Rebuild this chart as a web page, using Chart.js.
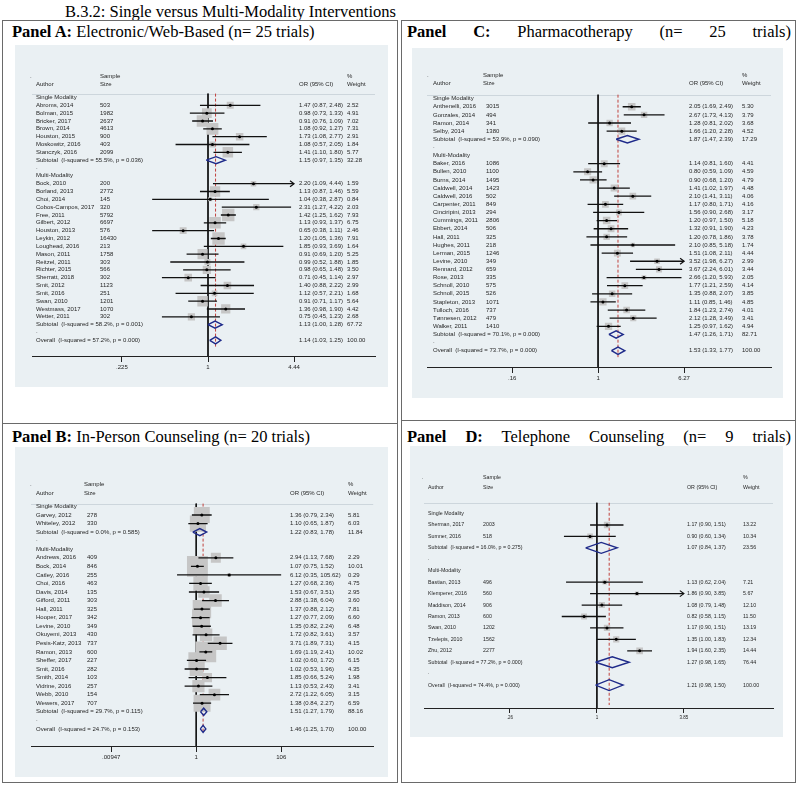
<!DOCTYPE html>
<html>
<head>
<meta charset="utf-8">
<script src="https://cdn.jsdelivr.net/npm/chart.js@4.4.1/dist/chart.umd.min.js"></script>
<style>
    body { margin: 0; width: 800px; height: 785px; background: #fff; position: relative; overflow: hidden; }
    .caja { position: absolute; border: 1.5px solid #6a6a6a; box-sizing: border-box; }
    .titulo { position: absolute; font-family: "Liberation Serif", "Times New Roman", serif; font-size: 16.5px; line-height: 17px; color: #000; white-space: nowrap; }
    .just { white-space: normal; text-align: justify; text-align-last: justify; }
    canvas { position: absolute; background: #eaf0f3; }
</style>
</head>
<body>
<div class="titulo" style="left:65px; top:3px;">B.3.2: Single versus Multi-Modality Interventions</div>

<div class="caja" style="left:2px; top:20px; width:396px; height:404px;"></div>
<div class="caja" style="left:2px; top:423px; width:396px; height:360px;"></div>
<div class="caja" style="left:401px; top:20px; width:395px; height:401px;"></div>
<div class="caja" style="left:401px; top:420px; width:395px; height:363px;"></div>

<div class="titulo" style="left:12px; top:23px;"><b>Panel A:</b> Electronic/Web-Based (n= 25 trials)</div>
<div class="titulo" style="left:12px; top:428px;"><b>Panel B:</b> In-Person Counseling (n= 20 trials)</div>
<div class="titulo just" style="left:407px; top:23px; width:384px;"><b>Panel C:</b> Pharmacotherapy (n= 25 trials)</div>
<div class="titulo just" style="left:407px; top:428px; width:384px;"><b>Panel D:</b> Telephone Counseling (n= 9 trials)</div>

<canvas id="chartA" width="373" height="342" style="left:15px; top:45px;"></canvas>
<canvas id="chartC" width="371" height="350" style="left:412px; top:48px;"></canvas>
<canvas id="chartB" width="373" height="330" style="left:15px; top:447px;"></canvas>
<canvas id="chartD" width="373" height="291" style="left:410px; top:446px;"></canvas>

<script>
// Panel A: Electronic/Web-Based (single modality first, then multi-modality)
const autoresA = ['Abroms, 2014', 'Bolman, 2015', 'Bricker, 2017', 'Brown, 2014', 'Houston, 2015', 'Moskowitz, 2016', 'Stanczyk, 2016',
    'Bock, 2010', 'Borland, 2013', 'Choi, 2014', 'Cobos-Campos, 2017', 'Free, 2011', 'Gilbert, 2012', 'Houston, 2013', 'Leykin, 2012',
    'Loughead, 2016', 'Mason, 2011', 'Reitzel, 2011', 'Richter, 2015', 'Sherratt, 2018', 'Smit, 2012', 'Smit, 2016', 'Swan, 2010',
    'Westmass, 2017', 'Wetter, 2011'];
const muestraA = [503, 1982, 2637, 4613, 900, 403, 2099, 200, 2772, 145, 320, 5792, 6697, 576, 16430, 213, 1758, 303, 566, 302, 1123, 251, 1201, 1070, 302];
const orA = [1.47, 0.98, 0.91, 1.08, 1.73, 1.08, 1.41, 2.20, 1.13, 1.04, 2.31, 1.42, 1.13, 0.65, 1.20, 1.85, 0.91, 0.99, 0.98, 0.71, 1.40, 1.12, 0.91, 1.36, 0.75];
const bajoA = [0.87, 0.73, 0.76, 0.92, 1.08, 0.57, 1.10, 1.09, 0.87, 0.38, 1.27, 1.25, 0.93, 0.38, 1.05, 0.93, 0.69, 0.52, 0.65, 0.45, 0.88, 0.57, 0.71, 0.98, 0.45];
const altoA = [2.48, 1.33, 1.09, 1.27, 2.77, 2.05, 1.80, 4.44, 1.46, 2.87, 4.22, 1.62, 1.37, 1.11, 1.36, 3.69, 1.20, 1.88, 1.48, 1.14, 2.22, 2.21, 1.17, 1.90, 1.23];
const pesoA = [2.52, 4.91, 7.02, 7.31, 2.91, 1.84, 5.77, 1.59, 5.59, 0.84, 2.03, 7.93, 6.75, 2.46, 7.91, 1.64, 5.25, 1.85, 3.50, 2.97, 2.99, 1.68, 5.64, 4.42, 2.68];
const nSimpleA = 7;
const resumenTxtA = ['Subtotal  (I-squared = 55.5%, p = 0.036)', 'Subtotal  (I-squared = 58.2%, p = 0.001)', 'Overall  (I-squared = 57.2%, p = 0.000)'];
const resumenOrA = [1.15, 1.13, 1.14];
const resumenBajoA = [0.97, 1.00, 1.03];
const resumenAltoA = [1.35, 1.28, 1.25];
const resumenPesoA = [32.28, 67.72, 100.00];
const ticksA = [0.225, 1, 4.44];
const ticksTxtA = ['.225', '1', '4.44'];

// Panel B: In-Person Counseling
const autoresB = ['Garvey, 2012', 'Whiteley, 2012',
    'Andrews, 2016', 'Bock, 2014', 'Catley, 2016', 'Choi, 2016', 'Davis, 2014', 'Gifford, 2011', 'Hall, 2011', 'Hooper, 2017', 'Levine, 2010',
    'Okuyemi, 2013', 'Pesis-Katz, 2013', 'Ramon, 2013', 'Sheffer, 2017', 'Smit, 2016', 'Smith, 2014', 'Vidrine, 2016', 'Webb, 2010', 'Wewers, 2017'];
const muestraB = [278, 330, 409, 846, 255, 463, 135, 303, 325, 342, 349, 430, 737, 600, 227, 282, 103, 257, 154, 707];
const orB = [1.36, 1.10, 2.94, 1.07, 6.12, 1.27, 1.53, 2.88, 1.37, 1.27, 1.35, 1.72, 3.71, 1.69, 1.02, 1.02, 1.85, 1.13, 2.72, 1.38];
const bajoB = [0.79, 0.65, 1.13, 0.75, 0.35, 0.68, 0.67, 1.38, 0.88, 0.77, 0.82, 0.82, 1.89, 1.19, 0.60, 0.53, 0.66, 0.53, 1.22, 0.84];
const altoB = [2.34, 1.87, 7.68, 1.52, 105.62, 2.36, 3.51, 6.04, 2.12, 2.09, 2.24, 3.61, 7.31, 2.41, 1.72, 1.96, 5.24, 2.43, 6.05, 2.27];
const pesoB = [5.81, 6.03, 2.29, 10.01, 0.29, 4.75, 2.95, 3.60, 7.81, 6.60, 6.48, 3.57, 4.15, 10.02, 6.15, 4.35, 1.98, 3.41, 3.15, 6.59];
const nSimpleB = 2;
const resumenTxtB = ['Subtotal  (I-squared = 0.0%, p = 0.585)', 'Subtotal  (I-squared = 29.7%, p = 0.115)', 'Overall  (I-squared = 24.7%, p = 0.153)'];
const resumenOrB = [1.22, 1.51, 1.46];
const resumenBajoB = [0.83, 1.27, 1.25];
const resumenAltoB = [1.78, 1.79, 1.70];
const resumenPesoB = [11.84, 88.16, 100.00];
const ticksB = [0.00947, 1, 106];
const ticksTxtB = ['.00947', '1', '106'];

// Panel C: Pharmacotherapy
const autoresC = ['Anthenelli, 2016', 'Gonzales, 2014', 'Ramon, 2014', 'Selby, 2014',
    'Baker, 2016', 'Bullen, 2010', 'Burns, 2014', 'Caldwell, 2014', 'Caldwell, 2016', 'Carpenter, 2011', 'Cinciripini, 2013', 'Cummings, 2011',
    'Ebbert, 2014', 'Hall, 2011', 'Hughes, 2011', 'Lerman, 2015', 'Levine, 2010', 'Rennard, 2012', 'Rose, 2013', 'Schnoll, 2010',
    'Schnoll, 2015', 'Stapleton, 2013', 'Tulloch, 2016', 'Tønnesen, 2012', 'Walker, 2011'];
const muestraC = [3015, 494, 341, 1380, 1086, 1100, 1495, 1423, 502, 849, 294, 2806, 506, 325, 218, 1246, 349, 659, 335, 575, 526, 1071, 737, 479, 1410];
const orC = [2.05, 2.67, 1.28, 1.66, 1.14, 0.80, 0.90, 1.41, 2.10, 1.17, 1.56, 1.20, 1.32, 1.20, 2.10, 1.51, 3.52, 3.67, 2.66, 1.77, 1.35, 1.11, 1.84, 2.12, 1.25];
const bajoC = [1.69, 1.73, 0.81, 1.20, 0.81, 0.59, 0.68, 1.02, 1.41, 0.80, 0.90, 0.97, 0.91, 0.78, 0.85, 1.08, 1.98, 2.24, 1.20, 1.21, 0.88, 0.85, 1.23, 1.28, 0.97];
const altoC = [2.49, 4.13, 2.02, 2.28, 1.60, 1.09, 1.20, 1.97, 3.11, 1.71, 2.68, 1.50, 1.90, 1.86, 5.18, 2.11, 6.27, 6.01, 5.93, 2.59, 2.07, 1.46, 2.74, 3.49, 1.62];
const pesoC = [5.30, 3.79, 3.68, 4.52, 4.41, 4.59, 4.79, 4.48, 4.06, 4.16, 3.17, 5.18, 4.23, 3.78, 1.74, 4.44, 2.99, 3.44, 2.05, 4.14, 3.85, 4.85, 4.01, 3.41, 4.94];
const nSimpleC = 4;
const resumenTxtC = ['Subtotal  (I-squared = 53.9%, p = 0.090)', 'Subtotal  (I-squared = 70.1%, p = 0.000)', 'Overall  (I-squared = 73.7%, p = 0.000)'];
const resumenOrC = [1.87, 1.47, 1.53];
const resumenBajoC = [1.47, 1.26, 1.33];
const resumenAltoC = [2.39, 1.71, 1.77];
const resumenPesoC = [17.29, 82.71, 100.00];
const ticksC = [0.16, 1, 6.27];
const ticksTxtC = ['.16', '1', '6.27'];

// Panel D: Telephone Counseling
const autoresD = ['Sherman, 2017', 'Sumner, 2016',
    'Bastian, 2013', 'Klemperer, 2016', 'Maddison, 2014', 'Ramon, 2013', 'Swan, 2010', 'Tzelepis, 2010', 'Zhu, 2012'];
const muestraD = [2003, 518, 496, 560, 906, 600, 1202, 1562, 2277];
const orD = [1.17, 0.90, 1.13, 1.86, 1.08, 0.82, 1.17, 1.35, 1.94];
const bajoD = [0.90, 0.60, 0.62, 0.90, 0.79, 0.58, 0.90, 1.00, 1.60];
const altoD = [1.51, 1.34, 2.04, 3.85, 1.48, 1.15, 1.51, 1.83, 2.35];
const pesoD = [13.22, 10.34, 7.21, 5.67, 12.10, 11.50, 13.19, 12.34, 14.44];
const nSimpleD = 2;
const resumenTxtD = ['Subtotal  (I-squared = 16.0%, p = 0.275)', 'Subtotal  (I-squared = 77.2%, p = 0.000)', 'Overall  (I-squared = 74.4%, p = 0.000)'];
const resumenOrD = [1.07, 1.27, 1.21];
const resumenBajoD = [0.84, 0.98, 0.98];
const resumenAltoD = [1.37, 1.65, 1.50];
const resumenPesoD = [23.56, 76.44, 100.00];
const ticksD = [0.26, 1, 3.85];
const ticksTxtD = ['.26', '1', '3.85'];

const FUENTE = '"Liberation Sans", Arial, sans-serif';

// armar la lista de filas: encabezado, estudios, subtotal, punto, ... overall
function armarFilas(nEstudios, nSimple) {
    const filas = [{ tipo: 'grupo', texto: 'Single Modality' }];
    for (let i = 0; i < nSimple; i++) filas.push({ tipo: 'estudio', i });
    filas.push({ tipo: 'resumen', j: 0 });
    filas.push({ tipo: 'punto' });
    filas.push({ tipo: 'grupo', texto: 'Multi-Modality' });
    for (let i = nSimple; i < nEstudios; i++) filas.push({ tipo: 'estudio', i });
    filas.push({ tipo: 'resumen', j: 1 });
    filas.push({ tipo: 'punto' });
    filas.push({ tipo: 'resumen', j: 2 });
    return filas.map((f, k) => ({ ...f, fila: k }));
}

const f2 = v => v.toFixed(2);

function dibujarForest(canvasId, d, L) {
    const paso = (L.ejeY - L.fila0Y) / L.filaEje;
    const aFila = py => (py - L.fila0Y) / paso;
    const filas = armarFilas(d.autores.length, d.nSimple);
    const estudios = filas.filter(f => f.tipo === 'estudio');
    const resumenes = filas.filter(f => f.tipo === 'resumen');
    const filaOverall = resumenes[2].fila;
    const overall = d.resOr[2];
    const tickMax = d.ticks[d.ticks.length - 1];
    const cx = v => v - L.grisX;

    const linea = (data, color, ancho, orden, extra) => Object.assign({
        data, showLine: true, borderColor: color, borderWidth: ancho,
        pointRadius: 0, fill: false, tension: 0, order: orden
    }, extra || {});

    const datasets = [
        // puntos de estimación
        {
            data: estudios.map(f => ({ x: d.or[f.i], y: f.fila })),
            pointRadius: 1.5, pointBackgroundColor: '#000', pointBorderWidth: 0, order: 0
        },
        // intervalos de confianza
        ...estudios.map(f => linea([{ x: d.bajo[f.i], y: f.fila }, { x: d.alto[f.i], y: f.fila }], '#111', 1.3, 1)),
        // diamantes
        ...resumenes.map(f => linea([
            { x: d.resBajo[f.j], y: f.fila },
            { x: d.resOr[f.j], y: f.fila - L.diamante },
            { x: d.resAlto[f.j], y: f.fila },
            { x: d.resOr[f.j], y: f.fila + L.diamante },
            { x: d.resBajo[f.j], y: f.fila }
        ], '#1f2b8a', 1.4, 1)),
        // cuadros de peso
        {
            data: estudios.map(f => ({ x: d.or[f.i], y: f.fila })),
            pointStyle: 'rect',
            pointRadius: c => L.kCaja * Math.sqrt(d.peso[estudios[c.dataIndex].i]) / Math.SQRT2,
            pointBackgroundColor: '#c6c6c6', pointBorderWidth: 0, order: 3
        },
        // línea de no efecto y línea del overall
        linea([{ x: 1, y: aFila(L.sepY) }, { x: 1, y: L.filaEje }], '#111', 1, 4),
        linea([{ x: overall, y: aFila(L.sepY) }, { x: overall, y: aFila(L.finRojaY) }], '#c0403c', 1, 4, { borderDash: [3, 2] })
    ];

    const textos = {
        id: 'textos' + canvasId,
        beforeDatasetsDraw(chart) {
            const { ctx, chartArea, scales: { y } } = chart;
            const ys = Math.round(y.getPixelForValue(aFila(L.sepY))) + 0.5;
            ctx.save();
            ctx.strokeStyle = '#cdd6dc';
            ctx.lineWidth = 1;
            ctx.beginPath();
            ctx.moveTo(chartArea.left, ys);
            ctx.lineTo(chartArea.right, ys);
            ctx.stroke();
            ctx.restore();
        },
        afterDatasetsDraw(chart) {
            const { ctx, scales: { x, y } } = chart;
            ctx.save();
            ctx.fillStyle = '#262626';
            ctx.font = `${L.fs}px ${FUENTE}`;
            ctx.textBaseline = 'middle';
            ctx.textAlign = 'left';

            // cabecera
            const yS = y.getPixelForValue(aFila(L.sampleY));
            const yA = y.getPixelForValue(aFila(L.autorY));
            ctx.fillText('.', cx(L.colAutor - 6), yS);
            ctx.fillText('Sample', cx(L.colMuestraH), yS);
            ctx.fillText('Size', cx(L.colMuestraH), yA);
            ctx.fillText('Author', cx(L.colAutor), yA);
            ctx.fillText('OR (95% CI)', cx(L.colOr), yA);
            ctx.fillText('%', cx(L.colPeso), yS);
            ctx.fillText('Weight', cx(L.colPeso), yA);

            filas.forEach(f => {
                const py = y.getPixelForValue(f.fila);
                if (f.tipo === 'grupo') {
                    ctx.fillText(f.texto, cx(L.colAutor), py);
                } else if (f.tipo === 'punto') {
                    ctx.fillText('.', cx(L.colAutor), py - 1);
                } else if (f.tipo === 'estudio') {
                    const i = f.i;
                    ctx.fillText(d.autores[i], cx(L.colAutor), py);
                    ctx.fillText(String(d.muestra[i]), cx(L.colMuestra), py);
                    ctx.fillText(`${f2(d.or[i])} (${f2(d.bajo[i])}, ${f2(d.alto[i])})`, cx(L.colOr), py);
                    ctx.fillText(f2(d.peso[i]), cx(L.colPeso), py);
                } else {
                    const j = f.j;
                    ctx.fillText(d.resTxt[j], cx(L.colAutor), py);
                    ctx.fillText(`${f2(d.resOr[j])} (${f2(d.resBajo[j])}, ${f2(d.resAlto[j])})`, cx(L.colOr), py);
                    ctx.fillText(f2(d.resPeso[j]), cx(L.colPeso), py);
                }
            });

            // flechas cuando el IC llega al límite del eje
            ctx.strokeStyle = '#111';
            ctx.lineWidth = 1.2;
            estudios.forEach(f => {
                if (d.alto[f.i] < tickMax) return;
                const px = x.getPixelForValue(d.alto[f.i]);
                const py = y.getPixelForValue(f.fila);
                ctx.beginPath();
                ctx.moveTo(px - 4, py - 3);
                ctx.lineTo(px, py);
                ctx.lineTo(px - 4, py + 3);
                ctx.stroke();
            });
            ctx.restore();
        }
    };

    new Chart(document.getElementById(canvasId), {
        type: 'scatter',
        data: { datasets },
        options: {
            responsive: false,
            animation: false,
            devicePixelRatio: 1,
            events: [],
            layout: { padding: { left: L.plotIzq - L.grisX, right: L.grisX + L.grisAncho - L.plotDer, top: 0, bottom: 0 } },
            plugins: { legend: { display: false }, tooltip: { enabled: false } },
            scales: {
                x: {
                    type: 'logarithmic',
                    bounds: 'data',
                    min: L.xMin,
                    max: L.xMax,
                    afterBuildTicks: s => { s.ticks = d.ticks.map(v => ({ value: v })); },
                    afterFit: s => { s.height = L.altoEje; },
                    ticks: {
                        callback: (v, i) => d.ticksTxt[i],
                        font: { size: L.fsTick, family: FUENTE },
                        color: '#222', padding: 2, maxRotation: 0, autoSkip: false
                    },
                    grid: { drawOnChartArea: false, drawTicks: true, tickLength: L.largoTick, color: '#222' },
                    border: { display: true, color: '#222', width: 1 }
                },
                y: { type: 'linear', reverse: true, min: aFila(L.grisY), max: L.filaEje, display: false }
            }
        },
        plugins: [textos]
    });
}

document.addEventListener('DOMContentLoaded', () => {
    dibujarForest('chartA', {
        autores: autoresA, muestra: muestraA, or: orA, bajo: bajoA, alto: altoA, peso: pesoA, nSimple: nSimpleA,
        resTxt: resumenTxtA, resOr: resumenOrA, resBajo: resumenBajoA, resAlto: resumenAltoA, resPeso: resumenPesoA,
        ticks: ticksA, ticksTxt: ticksTxtA
    }, {
        grisX: 15, grisY: 45, grisAncho: 373, plotIzq: 32, plotDer: 375, ejeY: 356, altoEje: 31, fila0Y: 90, filaEje: 33,
        xMin: Math.exp(-3.05), xMax: Math.exp(2.894), sampleY: 68, autorY: 76, sepY: 86, finRojaY: 347,
        colAutor: 36, colMuestra: 100, colMuestraH: 100, colOr: 299, colPeso: 347,
        fs: 6, fsTick: 6, largoTick: 6, kCaja: 4.4, diamante: 0.45
    });
    dibujarForest('chartC', {
        autores: autoresC, muestra: muestraC, or: orC, bajo: bajoC, alto: altoC, peso: pesoC, nSimple: nSimpleC,
        resTxt: resumenTxtC, resOr: resumenOrC, resBajo: resumenBajoC, resAlto: resumenAltoC, resPeso: resumenPesoC,
        ticks: ticksC, ticksTxt: ticksTxtC
    }, {
        grisX: 412, grisY: 48, grisAncho: 371, plotIzq: 427, plotDer: 771, ejeY: 367, altoEje: 31, fila0Y: 94, filaEje: 33,
        xMin: Math.exp(-3.65), xMax: Math.exp(3.69), sampleY: 70, autorY: 78, sepY: 90, finRojaY: 357,
        colAutor: 433, colMuestra: 486, colMuestraH: 483, colOr: 689, colPeso: 742,
        fs: 6, fsTick: 6, largoTick: 6, kCaja: 3.3, diamante: 0.45
    });
    dibujarForest('chartB', {
        autores: autoresB, muestra: muestraB, or: orB, bajo: bajoB, alto: altoB, peso: pesoB, nSimple: nSimpleB,
        resTxt: resumenTxtB, resOr: resumenOrB, resBajo: resumenBajoB, resAlto: resumenAltoB, resPeso: resumenPesoB,
        ticks: ticksB, ticksTxt: ticksTxtB
    }, {
        grisX: 15, grisY: 447, grisAncho: 373, plotIzq: 31, plotDer: 377, ejeY: 746, altoEje: 31, fila0Y: 494, filaEje: 28,
        xMin: Math.exp(-9.06), xMax: Math.exp(9.71), sampleY: 471, autorY: 480, sepY: 491, finRojaY: 733,
        colAutor: 36, colMuestra: 87, colMuestraH: 84, colOr: 290, colPeso: 348,
        fs: 6, fsTick: 6, largoTick: 6, kCaja: 6.6, diamante: 0.42
    });
    dibujarForest('chartD', {
        autores: autoresD, muestra: muestraD, or: orD, bajo: bajoD, alto: altoD, peso: pesoD, nSimple: nSimpleD,
        resTxt: resumenTxtD, resOr: resumenOrD, resBajo: resumenBajoD, resAlto: resumenAltoD, resPeso: resumenPesoD,
        ticks: ticksD, ticksTxt: ticksTxtD
    }, {
        grisX: 410, grisY: 446, grisAncho: 373, plotIzq: 424, plotDer: 773, ejeY: 708, altoEje: 29, fila0Y: 510, filaEje: 17,
        xMin: Math.exp(-2.68), xMax: Math.exp(2.73), sampleY: 473, autorY: 484, sepY: 499, finRojaY: 705,
        colAutor: 428, colMuestra: 483, colMuestraH: 483, colOr: 687, colPeso: 743,
        fs: 5.3, fsTick: 4.5, largoTick: 5, kCaja: 1.75, diamante: 0.48
    });
});
</script>
</body>
</html>
